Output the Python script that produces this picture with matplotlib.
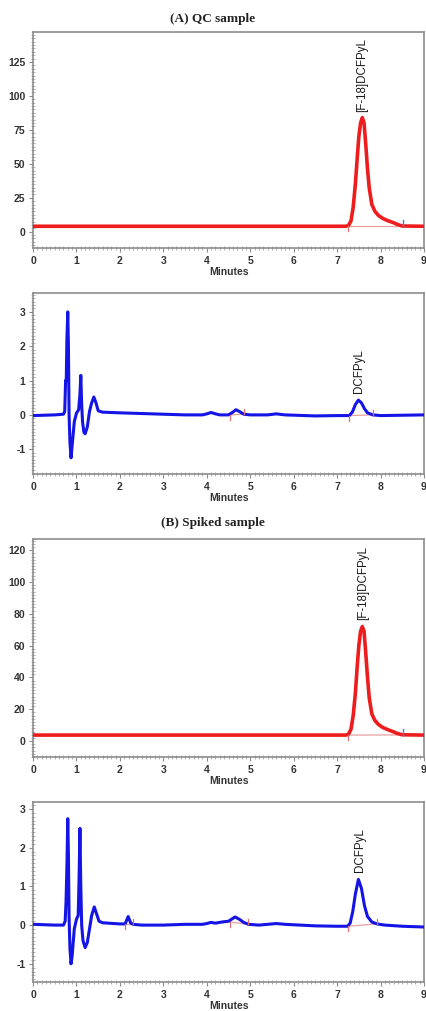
import matplotlib
matplotlib.use("Agg")
import matplotlib.pyplot as plt
from matplotlib.ticker import MultipleLocator

plt.rcParams["axes.unicode_minus"] = False

# ------------------------------------------------------------
# traces (minutes, signal) - radio detector (red) and UV (blue)
# ------------------------------------------------------------
qc_radio_t = [0, 7.2, 7.26, 7.32, 7.37, 7.42, 7.46, 7.5, 7.54, 7.58, 7.62, 7.66,
              7.7, 7.74, 7.8, 7.87, 7.95, 8.05, 8.15, 8.3, 8.4, 8.5, 9.0]
qc_radio_v = [4, 4, 4.5, 8, 18, 35, 53, 70, 80, 84, 80, 64,
              46, 32, 20, 15, 12, 9.8, 8.3, 6.6, 5.2, 4.2, 4]

qc_uv_t = [0, 0.5, 0.7, 0.73, 0.75, 0.765, 0.78, 0.8, 0.815, 0.83, 0.85, 0.875,
           0.9, 0.95, 1.0, 1.05, 1.08, 1.1, 1.12, 1.14, 1.17, 1.2, 1.25, 1.3,
           1.35, 1.4, 1.45, 1.5, 1.6, 2.0, 3.0, 3.5, 3.9, 4.0, 4.1, 4.2, 4.3,
           4.5, 4.6, 4.67, 4.75, 4.85, 5.0, 5.4, 5.6, 5.8, 6.5, 7.0, 7.28,
           7.35, 7.42, 7.49, 7.56, 7.63, 7.7, 7.82, 8.0, 9.0]
qc_uv_v = [-0.02, 0.0, 0.02, 0.1, 1.0, 1.0, 2.2, 3.0, 2.0, 0.0, -0.8, -1.25,
           -0.9, -0.2, 0.05, 0.15, 0.6, 1.15, 0.3, -0.2, -0.5, -0.55, -0.35, 0.1,
           0.35, 0.52, 0.35, 0.12, 0.08, 0.06, 0.02, 0.0, 0.0, 0.03, 0.07, 0.03, 0.0,
           0.0, 0.08, 0.15, 0.1, 0.02, 0.0, 0.0, 0.03, 0.0, -0.03, -0.02, -0.02,
           0.08, 0.3, 0.43, 0.35, 0.18, 0.06, 0.0, -0.02, 0.0]

sp_radio_t = [0, 7.2, 7.26, 7.32, 7.37, 7.42, 7.46, 7.5, 7.54, 7.58, 7.62, 7.66,
              7.7, 7.74, 7.8, 7.87, 7.95, 8.05, 8.15, 8.3, 8.4, 8.5, 9.0]
sp_radio_v = [3.8, 3.8, 4.3, 7.5, 16, 30, 46, 60, 69, 72, 69, 55,
              40, 27, 17, 13, 10.5, 8.6, 7.4, 5.8, 4.7, 4.0, 3.8]

sp_uv_t = [0, 0.5, 0.7, 0.74, 0.76, 0.78, 0.8, 0.815, 0.83, 0.85, 0.875, 0.9,
           0.95, 1.0, 1.04, 1.06, 1.08, 1.1, 1.12, 1.15, 1.2, 1.25, 1.3, 1.35,
           1.41, 1.46, 1.52, 1.6, 2.0, 2.12, 2.19, 2.25, 2.31, 2.5, 3.0, 3.5,
           3.9, 4.0, 4.1, 4.2, 4.35, 4.5, 4.65, 4.75, 4.85, 4.96, 5.2, 5.4,
           5.6, 5.8, 6.5, 7.0, 7.24, 7.3, 7.36, 7.42, 7.49, 7.56, 7.63, 7.7,
           7.8, 7.92, 8.1, 8.5, 9.0]
sp_uv_v = [0.02, 0.0, 0.0, 0.1, 0.6, 1.5, 2.75, 1.8, 0.2, -0.6, -1.0, -0.8,
           -0.1, 0.15, 0.25, 1.2, 2.5, 1.0, 0.0, -0.4, -0.58, -0.45, -0.1, 0.25,
           0.47, 0.3, 0.1, 0.06, 0.03, 0.03, 0.22, 0.05, 0.02, 0.0, 0.0, 0.02,
           0.02, 0.04, 0.07, 0.05, 0.08, 0.1, 0.21, 0.15, 0.07, 0.02, 0.0, 0.02,
           0.04, 0.02, -0.02, -0.03, -0.03, 0.05, 0.35, 0.8, 1.18, 0.95, 0.5, 0.22,
           0.08, 0.03, 0.0, -0.03, -0.05]

# integration baselines: (start t, start v, end t, end v)
qc_radio_int = [(7.26, 4, 8.51, 4)]
qc_uv_int = [(4.53, 0.0, 4.86, 0.02), (7.28, -0.02, 7.82, 0.0)]
sp_radio_int = [(7.25, 3.8, 8.51, 3.9)]
sp_uv_int = [(2.12, 0.02, 2.31, 0.02), (4.53, 0.08, 4.96, 0.02), (7.24, -0.03, 7.92, 0.03)]

# peak names and where they sit
qc_radio_label = ("[F-18]DCFPyL", 7.57, 88)
qc_uv_label = ("DCFPyL", 7.51, 0.64)
sp_radio_label = ("[F-18]DCFPyL", 7.6, 76)
sp_uv_label = ("DCFPyL", 7.53, 1.38)

qc_radio_yticks = [0, 25, 50, 75, 100, 125]
sp_radio_yticks = [0, 20, 40, 60, 80, 100, 120]
uv_yticks = [-1, 0, 1, 2, 3]
x_ticks = list(range(10))

fig = plt.figure(figsize=(4.26, 10.11), dpi=100)

TXT = "#333333"
SPINE = "#8c8c8c"


def panel(rect, t, v, color, lw, ylim, yticks, ymin, ints, tick_h, label, end_blue):
    ax = fig.add_axes(rect)
    ax.plot(t, v, color=color, lw=lw, solid_joinstyle="round", zorder=3)
    for t0, v0, t1, v1 in ints:
        ax.plot([t0, t1], [v0, v1], color="#e8a0a0", lw=0.9, zorder=2)
        ax.plot([t0, t0], [v0 - tick_h, v0], color="#e07070", lw=0.9, zorder=4)
        if end_blue:
            ax.plot([t1, t1], [v1, v1 + tick_h * 1.3], color="#6070d0", lw=1.0, zorder=4)
        else:
            ax.plot([t1, t1], [v1, v1 + tick_h], color="#e07070", lw=0.9, zorder=4)
    name, lx, ly = label
    ax.text(lx, ly, name, rotation=90, ha="center", va="bottom",
            fontsize=8.3, family="Liberation Sans", color="#1a1a1a")
    ax.set_xlim(0, 9)
    ax.set_ylim(*ylim)
    ax.set_xticks(x_ticks)
    ax.set_yticks(yticks)
    ax.xaxis.set_minor_locator(MultipleLocator(0.1))
    ax.yaxis.set_minor_locator(MultipleLocator(ymin))
    for s in ax.spines.values():
        s.set_color(SPINE)
        s.set_linewidth(1.2)
    ax.tick_params(which="major", direction="out", length=3, width=0.8,
                   color=SPINE, labelsize=7.5, labelcolor=TXT, pad=2.5)
    ax.tick_params(which="minor", direction="inout", length=2.5, width=0.6, color="#a5a5a5")
    ax.tick_params(top=False, right=False, which="both")
    for lab in ax.get_xticklabels() + ax.get_yticklabels():
        lab.set_family("Liberation Sans")
        lab.set_fontweight("bold")
    ax.set_xlabel("Minutes", fontsize=7.5, family="Liberation Sans",
                  fontweight="bold", color=TXT, labelpad=1)
    return ax


L, W = 0.0775, 0.9178
panel([L, 0.7547, W, 0.2136], qc_radio_t, qc_radio_v, "#ee1c1c", 2.6,
      (-12, 147), qc_radio_yticks, 2.5, qc_radio_int, 3.5, qc_radio_label, True)
panel([L, 0.5312, W, 0.1790], qc_uv_t, qc_uv_v, "#1414e6", 2.2,
      (-1.72, 3.55), uv_yticks, 0.1, qc_uv_int, 0.15, qc_uv_label, False)
panel([L, 0.2512, W, 0.2156], sp_radio_t, sp_radio_v, "#ee1c1c", 2.6,
      (-10, 127), sp_radio_yticks, 2, sp_radio_int, 3.0, sp_radio_label, True)
panel([L, 0.0287, W, 0.1780], sp_uv_t, sp_uv_v, "#1414e6", 2.2,
      (-1.47, 3.18), uv_yticks, 0.1, sp_uv_int, 0.13, sp_uv_label, False)

fig.text(0.5, 1 - 19 / 1011, "(A) QC sample", ha="center", va="center",
         fontsize=9.5, family="Liberation Serif", fontweight="bold", color="#222222")
fig.text(0.5, 1 - 523 / 1011, "(B) Spiked sample", ha="center", va="center",
         fontsize=9.5, family="Liberation Serif", fontweight="bold", color="#222222")

fig.savefig("out.png", dpi=100, facecolor="white")
